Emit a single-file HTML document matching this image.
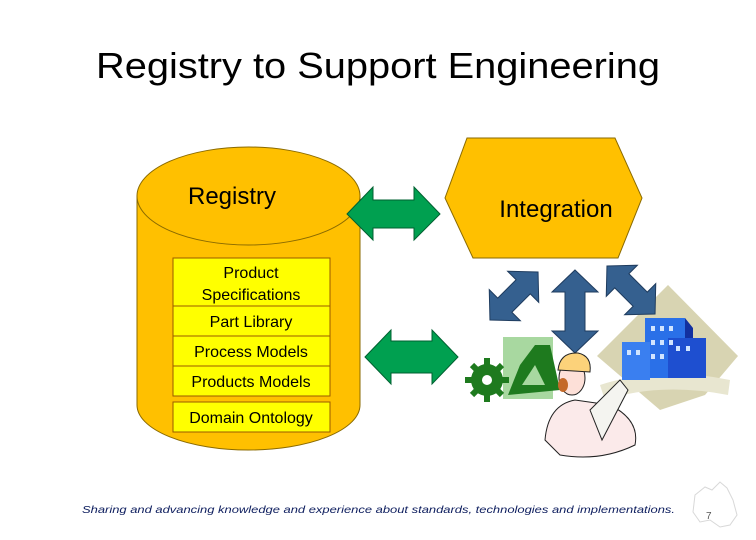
<!DOCTYPE html>
<html><head><meta charset="utf-8"><style>
html,body{margin:0;padding:0;background:#fff;}
svg{display:block;}
</style></head><body>
<svg width="756" height="540" viewBox="0 0 756 540" xmlns="http://www.w3.org/2000/svg" font-family="Liberation Sans, Arial, sans-serif">
<text x="96" y="78" font-size="36" textLength="564" lengthAdjust="spacingAndGlyphs" fill="#000">Registry to Support Engineering</text>

<!-- cylinder -->
<path d="M137,196 L137,405 A111.5,45 0 0 0 360,405 L360,196 Z" fill="#ffc000" stroke="#8a6a00" stroke-width="1"/>
<ellipse cx="248.5" cy="196" rx="111.5" ry="49" fill="#ffc000" stroke="#8a6a00" stroke-width="1"/>
<text x="188" y="204" font-size="24" fill="#000">Registry</text>

<g fill="#ffff00" stroke="#9a5a00" stroke-width="1">
<rect x="173" y="258" width="157" height="48"/>
<rect x="173" y="306" width="157" height="30"/>
<rect x="173" y="336" width="157" height="30"/>
<rect x="173" y="366" width="157" height="30"/>
<rect x="173" y="402" width="157" height="30"/>
</g>
<g font-size="16" fill="#000" text-anchor="middle">
<text x="251" y="278">Product</text>
<text x="251" y="300">Specifications</text>
<text x="251" y="327">Part Library</text>
<text x="251" y="357">Process Models</text>
<text x="251" y="387">Products Models</text>
<text x="251" y="423">Domain Ontology</text>
</g>

<!-- hexagon -->
<polygon points="467,138 615,138 642,198 618,258 473,258 445,198" fill="#ffc000" stroke="#8a6a00" stroke-width="1"/>
<text x="556" y="217" font-size="24" fill="#000" text-anchor="middle">Integration</text>

<!-- green arrows -->
<polygon points="347,214 373,187 373,200 414,200 414,187 440,214 414,240 414,228 373,228 373,240" fill="#00a050" stroke="#006030" stroke-width="1"/>
<polygon points="365,357 391,330 391,341 432,341 432,330 458,357 432,384 432,373 391,373 391,384" fill="#00a050" stroke="#006030" stroke-width="1"/>

<!-- clip art: building backdrop -->
<polygon points="597,356 668,285 738,356 705,395 660,410" fill="#d8d4b2"/>
<path d="M600,385 Q660,365 730,380 L728,395 Q660,382 605,400 Z" fill="#e8e6d0"/>

<!-- blue arrows -->
<polygon points="575,270 598,292 585,292 585,331 598,331 575,353 552,331 565,331 565,292 552,292" fill="#35608f" stroke="#1f3c5f" stroke-width="1"/>
<g transform="translate(514,296) rotate(-45)">
<polygon points="-34,0 -13,-22 -13,-10 13,-10 13,-22 34,0 13,22 13,10 -13,10 -13,22" fill="#35608f" stroke="#1f3c5f" stroke-width="1"/>
</g>
<g transform="translate(631,290) rotate(45)">
<polygon points="-34,0 -13,-22 -13,-10 13,-10 13,-22 34,0 13,22 13,10 -13,10 -13,22" fill="#35608f" stroke="#1f3c5f" stroke-width="1"/>
</g>

<!-- buildings -->
<rect x="645" y="318" width="40" height="60" fill="#2a70e8"/>
<rect x="622" y="342" width="28" height="38" fill="#3a7ff0"/>
<rect x="668" y="338" width="38" height="40" fill="#1e4fd0"/>
<polygon points="685,318 693,328 693,338 685,338" fill="#1230a0"/>
<g fill="#d0e4ff">
<rect x="651" y="326" width="4" height="5"/><rect x="660" y="326" width="4" height="5"/><rect x="669" y="326" width="4" height="5"/>
<rect x="651" y="340" width="4" height="5"/><rect x="660" y="340" width="4" height="5"/><rect x="669" y="340" width="4" height="5"/>
<rect x="651" y="354" width="4" height="5"/><rect x="660" y="354" width="4" height="5"/>
<rect x="676" y="346" width="4" height="5"/><rect x="686" y="346" width="4" height="5"/>
<rect x="627" y="350" width="4" height="5"/><rect x="636" y="350" width="4" height="5"/>
</g>

<!-- clip art: gear & tool -->
<rect x="503" y="337" width="50" height="62" fill="#a8d8a0"/>
<circle cx="487" cy="380" r="16" fill="#1e7a1e"/>
<g stroke="#1e7a1e" stroke-width="6">
<line x1="487" y1="358" x2="487" y2="402"/><line x1="465" y1="380" x2="509" y2="380"/>
<line x1="472" y1="365" x2="502" y2="395"/><line x1="502" y1="365" x2="472" y2="395"/>
</g>
<circle cx="487" cy="380" r="5" fill="#fff"/>
<polygon points="508,395 520,365 535,345 550,345 560,390" fill="#1e7a1e"/>
<polygon points="522,385 535,365 545,385" fill="#a8d8a0"/>

<!-- clip art: woman -->
<path d="M545,440 Q548,405 575,400 L610,405 Q640,420 635,445 Q600,462 560,455 Z" fill="#fbeaea" stroke="#222" stroke-width="1"/>
<ellipse cx="572" cy="378" rx="13" ry="17" fill="#fde0d8" stroke="#222" stroke-width="1"/>
<path d="M558,370 Q560,352 578,353 Q592,356 590,372 Z" fill="#fcd27a" stroke="#222" stroke-width="1"/>
<ellipse cx="563" cy="385" rx="5" ry="7" fill="#c46a2a"/>
<path d="M590,410 L620,380 L628,390 L602,440 Z" fill="#f4f4f0" stroke="#222" stroke-width="1"/>

<!-- footer -->
<text x="82" y="513" font-size="10.5" font-style="italic" fill="#102060" textLength="593" lengthAdjust="spacingAndGlyphs">Sharing and advancing knowledge and experience about standards, technologies and implementations.</text>
<path d="M695,495 L705,487 L712,490 L720,482 L727,488 L733,500 L737,515 L730,525 L720,527 L710,520 L700,522 L693,512 Z" fill="none" stroke="#d8d8d8" stroke-width="1"/>
<text x="706" y="519" font-size="10" fill="#555">7</text>
</svg>
</body></html>
